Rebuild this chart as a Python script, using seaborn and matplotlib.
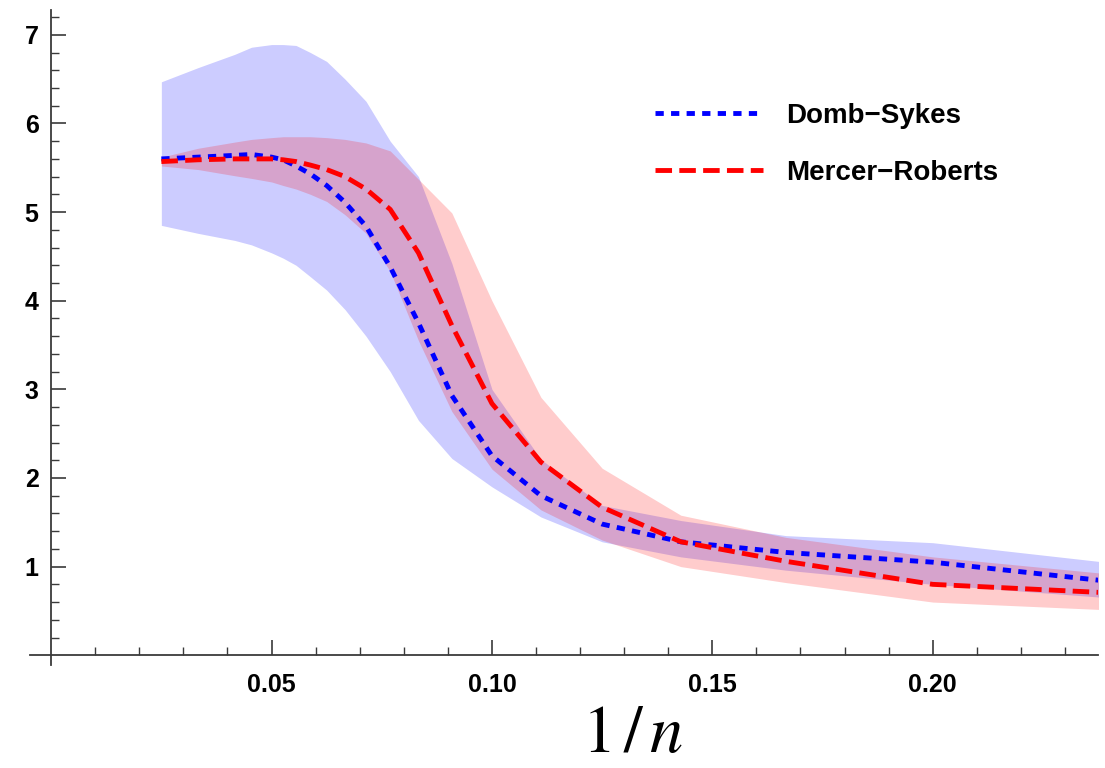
import numpy as np
import pandas as pd
import matplotlib
matplotlib.use("Agg")
import matplotlib.pyplot as plt
import seaborn as sns

# Series length n and the ratio-method estimates with their uncertainty bands
n_terms = [40, 30, 24, 22, 20, 19, 18, 17, 16, 15, 14, 13, 12, 11, 10, 9, 8, 7, 6, 5, 4]

domb_sykes = [5.60, 5.62, 5.64, 5.65, 5.62, 5.59, 5.52, 5.43, 5.30, 5.11, 4.84, 4.38,
              3.75, 2.93, 2.25, 1.80, 1.48, 1.28, 1.16, 1.05, 0.78]
domb_sykes_hi = [6.47, 6.63, 6.78, 6.86, 6.89, 6.89, 6.88, 6.80, 6.70, 6.50, 6.25, 5.80,
                 5.40, 4.42, 3.00, 2.21, 1.69, 1.52, 1.35, 1.27, 0.99]
domb_sykes_lo = [4.85, 4.76, 4.68, 4.63, 4.54, 4.48, 4.40, 4.27, 4.12, 3.90, 3.60, 3.20,
                 2.65, 2.22, 1.90, 1.56, 1.28, 1.11, 0.96, 0.80, 0.61]

mercer_roberts = [5.57, 5.59, 5.60, 5.60, 5.60, 5.59, 5.57, 5.53, 5.48, 5.40, 5.26, 5.03,
                  4.54, 3.72, 2.84, 2.18, 1.67, 1.28, 1.06, 0.80, 0.68]
mercer_roberts_hi = [5.62, 5.72, 5.79, 5.82, 5.84, 5.85, 5.85, 5.85, 5.84, 5.82, 5.78, 5.69,
                     5.37, 4.99, 4.00, 2.91, 2.11, 1.58, 1.33, 1.11, 0.87]
mercer_roberts_lo = [5.52, 5.48, 5.41, 5.38, 5.34, 5.30, 5.26, 5.20, 5.12, 4.97, 4.76, 4.33,
                     3.55, 2.75, 2.10, 1.64, 1.30, 1.00, 0.82, 0.60, 0.49]

series_labels = ["Domb\u2212Sykes", "Mercer\u2212Roberts"]
x_major = [0.05, 0.10, 0.15, 0.20]
x_major_labels = ["0.05", "0.10", "0.15", "0.20"]
y_major = [1, 2, 3, 4, 5, 6, 7]

df = pd.DataFrame({
    "inv_n": 1.0 / np.array(n_terms, dtype=float),
    "ds": domb_sykes, "ds_hi": domb_sykes_hi, "ds_lo": domb_sykes_lo,
    "mr": mercer_roberts, "mr_hi": mercer_roberts_hi, "mr_lo": mercer_roberts_lo,
}).sort_values("inv_n")

sns.set_style("white")
plt.rcParams["font.family"] = ["Liberation Sans", "DejaVu Sans"]
plt.rcParams["mathtext.fontset"] = "stix"
plt.rcParams["text.color"] = "black"

W, H = 1105, 768
fig = plt.figure(figsize=(W / 100, H / 100), dpi=100)
ax = fig.add_axes([30 / W, 1 - 665 / H, (1098 - 30) / W, (665 - 10) / H])

# uncertainty bands
ax.fill_between(df["inv_n"], df["ds_lo"], df["ds_hi"], color=(0, 0, 1), alpha=0.2, lw=0)
ax.fill_between(df["inv_n"], df["mr_lo"], df["mr_hi"], color=(1, 0, 0), alpha=0.2, lw=0)

# central estimates
lw = 3.5
sns.lineplot(data=df, x="inv_n", y="ds", color=(0, 0, 1), linewidth=lw, ax=ax,
             label=series_labels[0])
sns.lineplot(data=df, x="inv_n", y="mr", color=(1, 0, 0), linewidth=lw, ax=ax,
             label=series_labels[1])
lines = ax.get_lines()
lines[0].set_dashes((1.7, 1.5))
lines[1].set_dashes((3.4, 1.5))
for ln in lines:
    ln.set_dash_capstyle("butt")

ax.set_xlim(-0.0048, 0.2375)
ax.set_ylim(-0.11, 7.28)

# axes crossing at the origin
axis_col = "#3a3a3a"
for side in ("top", "right"):
    ax.spines[side].set_visible(False)
ax.spines["left"].set_position(("data", 0))
ax.spines["bottom"].set_position(("data", 0))
for side in ("left", "bottom"):
    ax.spines[side].set_color(axis_col)
    ax.spines[side].set_linewidth(1.3)

ax.set_xticks(x_major)
ax.set_xticklabels(x_major_labels)
ax.set_xticks([k / 100 for k in range(1, 24) if k % 5 != 0], minor=True)
ax.set_yticks(y_major)
ax.set_yticklabels([str(v) for v in y_major])
ax.set_yticks([k / 5 for k in range(1, 37) if k % 5 != 0], minor=True)

ax.tick_params(which="both", bottom=True, left=True, top=False, right=False)
ax.tick_params(which="major", direction="in", length=11, width=1.2, color=axis_col)
ax.tick_params(which="minor", direction="in", length=6, width=1.0, color=axis_col)
ax.tick_params(axis="x", which="major", pad=13)
ax.tick_params(axis="y", which="major", pad=9)
for lab in ax.get_xticklabels() + ax.get_yticklabels():
    lab.set_fontsize(18)
    lab.set_fontweight("bold")
    lab.set_color("black")

ax.set_xlabel("")
ax.set_ylabel("")
fig.text(633 / W, 1 - 752 / H, r"$1\,/\,n$", fontsize=48, ha="center", va="baseline",
         color="black")

leg = ax.legend(loc="upper left", bbox_to_anchor=(644 / W, 1 - 92 / H),
                bbox_transform=fig.transFigure, frameon=False,
                prop={"weight": "bold", "size": 20}, handlelength=3.9,
                handletextpad=0.8, labelspacing=1.1, borderpad=0.4, borderaxespad=0)
for t in leg.get_texts():
    t.set_color("black")

fig.savefig("out.png", dpi=100)
